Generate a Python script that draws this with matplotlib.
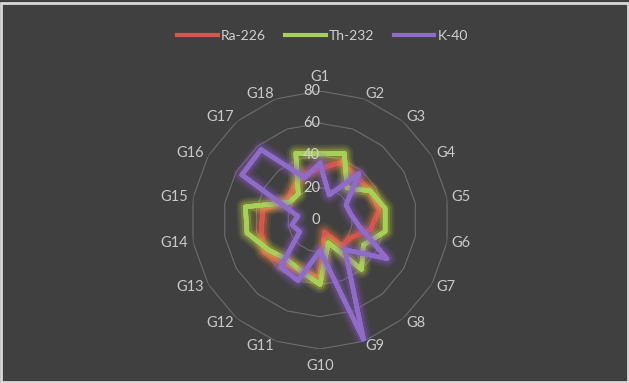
import numpy as np
import matplotlib.pyplot as plt
import matplotlib.patheffects as pe

categories = ['G%d' % i for i in range(1, 19)]
ra226 = [32, 38, 35, 36, 37, 32, 22, 21, 8, 36, 33, 36, 40, 37, 36, 24, 26, 30]
th232 = [41, 44, 26, 36, 41, 41, 31, 40, 15, 40, 34, 32, 37, 46, 47, 22, 21, 44]
k40 = [35, 16.5, 37.5, 18.6, 19.5, 25, 48, 24, 79, 19, 40, 38, 14.5, 17.7, 14, 56, 57, 28]
rings = [20, 40, 60, 80]

bg = '#404040'
series = [
    ('Ra-226', ra226, '#D9534F', '#E8763A'),
    ('Th-232', th232, '#A6D05A', '#C8D43C'),
    ('K-40', k40, '#8E6CC8', '#8E5CC8'),
]

plt.rcParams['font.family'] = ['Lato', 'DejaVu Sans']

fig = plt.figure(figsize=(6.29, 3.83), dpi=100, facecolor=bg)
ax = fig.add_axes([0.3037, 0.0888, 0.4102, 0.6736], projection='polar')
ax.set_facecolor(bg)
ax.set_theta_zero_location('N')
ax.set_theta_direction(-1)
ax.set_ylim(0, 80)
ax.grid(False)
ax.spines['polar'].set_visible(False)
ax.set_xticks([])
ax.set_yticks([])

theta = np.linspace(0, 2 * np.pi, len(categories), endpoint=False)
closed = np.append(theta, theta[0])

# polygon grid rings
for r in rings:
    ax.plot(closed, [r] * len(closed), color='#6E6E6E', lw=0.8, zorder=1)

# value labels up the G1 axis
for r in [0] + rings:
    ax.text(0, r, str(r), ha='right', va='center', color='#D0D0D0',
            fontsize=10.5, zorder=5)

# category labels, anchored on the side facing the centre
for t, name in zip(theta, categories):
    s, c = np.sin(t), np.cos(t)
    if abs(s) < 0.1:
        ax.text(t, 86.5, name, ha='center', va='baseline' if c > 0 else 'top',
                color='#C8C8C8', fontsize=10.5, clip_on=False)
    else:
        ax.text(t, 83, name, ha='left' if s > 0 else 'right', va='center',
                color='#C8C8C8', fontsize=10.5, clip_on=False)

for name, vals, col, glow in series:
    v = np.append(vals, vals[0])
    ax.plot(closed, v, color=col, lw=3.2, label=name, zorder=3,
            solid_joinstyle='round',
            path_effects=[pe.withStroke(linewidth=13, foreground=glow, alpha=0.1),
                          pe.withStroke(linewidth=10, foreground=glow, alpha=0.15),
                          pe.withStroke(linewidth=7, foreground=glow, alpha=0.25),
                          pe.Normal()])

leg = fig.legend(loc='center', bbox_to_anchor=(0.513, 0.906), ncol=3, frameon=False,
                 fontsize=10, handlelength=2.9, columnspacing=1.4, handletextpad=0.25)
for t in leg.get_texts():
    t.set_color('#D0D0D0')
for h in leg.legend_handles:
    h.set_path_effects([])
    h.set_linewidth(3)

fig.patches.append(plt.Rectangle((0.002, 0.003), 0.996, 0.99, transform=fig.transFigure,
                                 fill=False, edgecolor='#D9D9D9', lw=2))

fig.savefig('out.png', dpi=100, facecolor=bg)
